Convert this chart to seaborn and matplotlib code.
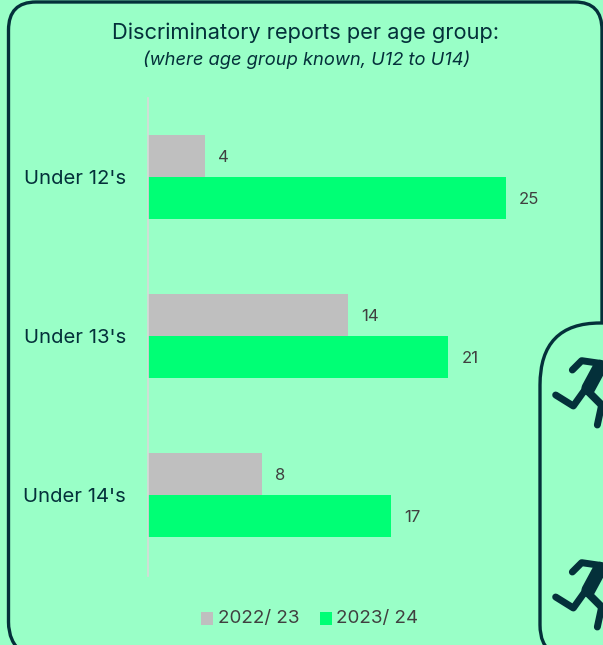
import matplotlib
matplotlib.use("Agg")
import matplotlib.pyplot as plt
from matplotlib.path import Path
from matplotlib.patches import PathPatch
import pandas as pd
import seaborn as sns

categories = ["Under 12's", "Under 13's", "Under 14's"]
season_a = [4, 14, 8]
season_b = [25, 21, 17]
season_names = ["2022/ 23", "2023/ 24"]

BG = "#99FFC7"
DARK = "#04303A"
GREY = "#BFBFBF"
GREEN = "#00FF75"
LABEL = "#404040"
FONT = ["Inter", "DejaVu Sans"]
W, H = 603, 645

sns.set_theme(style="white", rc={"font.family": FONT})
plt.rcParams["font.family"] = FONT

fig = plt.figure(figsize=(W / 100, H / 100), dpi=100, facecolor=BG)

# overlay in pixel units for the panel frames and the icons
bg = fig.add_axes([0, 0, 1, 1], zorder=0)
bg.set_xlim(0, W)
bg.set_ylim(H, 0)
bg.axis("off")

M, L, C = Path.MOVETO, Path.LINETO, Path.CURVE3
panel = Path([(22, 652), (8.5, 642), (8.5, 622), (8.5, 30), (8.5, 2), (36, 2), (575, 2), (602, 2), (602, 30), (602, 323)],
             [M, C, C, L, C, C, L, C, C, L])
bg.add_patch(PathPatch(panel, fc="none", ec=DARK, lw=2.4))
panel2 = Path([(625, 323), (600, 323), (540, 323), (540, 385), (540, 625), (540, 645), (552, 652)],
              [M, L, C, C, L, C, C])
bg.add_patch(PathPatch(panel2, fc="none", ec=DARK, lw=2.4))


def runner(dy):
    def pts(seq):
        return [440 + x / 3 for x, _ in seq], [300 + dy + y / 3 for _, y in seq]
    limbs = [([(397, 210), (425, 182), (480, 190)], 5),
             ([(347, 285), (400, 318), (440, 262)], 5),
             ([(440, 270), (490, 320)], 5.5),
             ([(485, 315), (472, 375)], 5),
             ([(480, 200), (445, 265)], 10)]
    for seq, lw in limbs:
        xs, ys = pts(seq)
        bg.plot(xs, ys, color=DARK, lw=lw, solid_capstyle="round", solid_joinstyle="round")


runner(0)
runner(202)

fig.text(305.5 / W, 1 - 33 / H, "Discriminatory reports per age group:", ha="center", va="center",
         fontsize=15.75, color=DARK)
fig.text(307 / W, 1 - 60 / H, "(where age group known, U12 to U14)", ha="center", va="center",
         fontsize=13.2, style="italic", color=DARK)

# chart
x0, x1, y0, y1 = 147.5, 558, 97.5, 576
ax = fig.add_axes([x0 / W, 1 - y1 / H, (x1 - x0) / W, (y1 - y0) / H], zorder=1)
ax.patch.set_alpha(0)
df = pd.DataFrame({
    "group": categories * 2,
    "season": [season_names[0]] * 3 + [season_names[1]] * 3,
    "value": season_a + season_b,
})
sns.barplot(data=df, y="group", x="value", hue="season", order=categories,
            hue_order=season_names, palette=[GREY, GREEN], width=0.525, gap=0,
            saturation=1, legend=False, linewidth=0, edgecolor="none", ax=ax)
ax.set_xlim(0, (x1 - x0) / 14.32)
ax.set_ylim(2.51, -0.5)
ax.set_xlabel("")
ax.set_ylabel("")
ax.xaxis.set_visible(False)
for s in ["top", "right", "bottom"]:
    ax.spines[s].set_visible(False)
ax.spines["left"].set_color("#D9D9D9")
ax.spines["left"].set_linewidth(1.2)
ax.tick_params(axis="y", length=0, pad=15.5)
for t in ax.get_yticklabels():
    t.set_fontsize(14.6)
    t.set_color(DARK)
for c in ax.containers:
    for lab in ax.bar_label(c, padding=9.5, fontsize=12, color=LABEL):
        lab.xyann = (9.5, -1.3)

# legend
bg.add_patch(plt.Rectangle((201, 612), 12, 12.5, color=GREY, lw=0))
bg.add_patch(plt.Rectangle((320, 612), 12, 12.5, color=GREEN, lw=0))
bg.text(217.5, 618.5, season_names[0], fontsize=13.5, color=LABEL, va="center")
bg.text(336.5, 618.5, season_names[1], fontsize=13.5, color=LABEL, va="center")

fig.savefig("out.png", dpi=100, facecolor=fig.get_facecolor())
